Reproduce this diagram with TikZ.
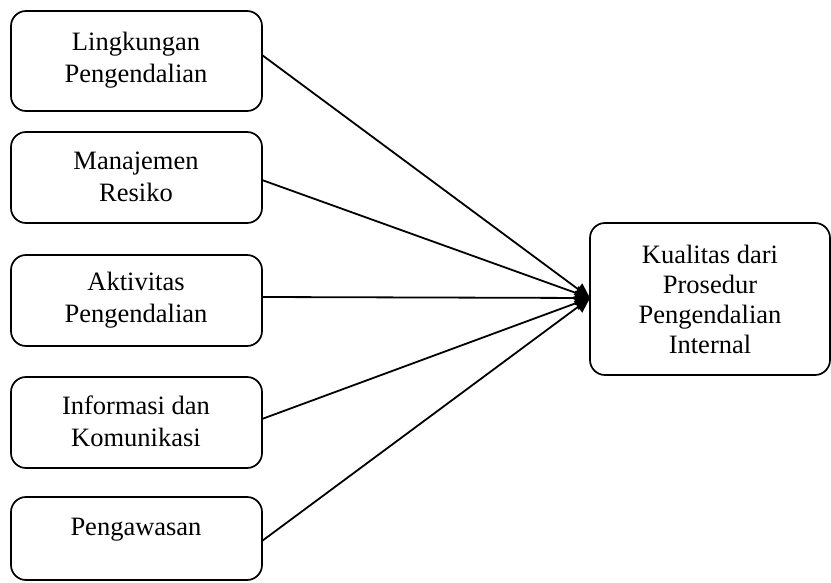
\documentclass[tikz,border=0pt]{standalone}
\usepackage{fontspec}
\setmainfont{Liberation Serif}
\usetikzlibrary{arrows.meta}
\begin{document}
\begin{tikzpicture}[x=1pt,y=-1pt,
  boxst/.style={draw,line width=1.7pt,rounded corners=15pt},
  lbl/.style={font=\fontsize{26.5}{32}\selectfont,align=center},
  rlbl/.style={font=\fontsize{26.5}{30}\selectfont,align=center},
  conn/.style={line width=1.8pt,-{Triangle[length=15pt,width=14pt]}}]
\useasboundingbox (0,0) rectangle (831,583);
\draw[boxst] (11,11) rectangle (262,111);
\draw[boxst] (11,132) rectangle (262,223);
\draw[boxst] (11,255) rectangle (262,346);
\draw[boxst] (11,377) rectangle (262,468);
\draw[boxst] (11,497) rectangle (262,580);
\draw[boxst] (590,223) rectangle (830,375);
\node[lbl] (a) at (136,60) {Lingkungan\\Pengendalian};
\node[lbl] (b) at (136,177) {Manajemen\\Resiko};
\node[lbl] (c) at (136,300) {Aktivitas\\Pengendalian};
\node[lbl] (d) at (136,421) {Informasi dan\\Komunikasi};
\node[lbl,anchor=base] (e) at (136,535) {Pengawasan};
\node[rlbl] (t) at (710,299) {Kualitas dari\\Prosedur\\Pengendalian\\Internal};
\coordinate (s1) at (262,55);
\coordinate (s2) at (262,180);
\coordinate (s3) at (262,297);
\coordinate (s4) at (262,419);
\coordinate (s5) at (262,541);
\coordinate (tp) at (590,298);
\foreach \s in {s1,s2,s3,s4,s5} \draw[conn] (\s) -- (tp);
\end{tikzpicture}
\end{document}
